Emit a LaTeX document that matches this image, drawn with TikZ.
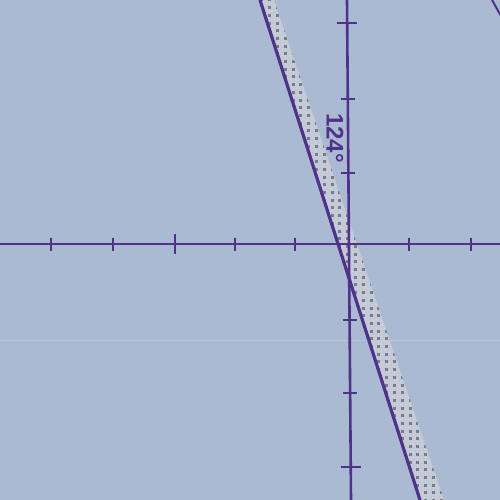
\documentclass[tikz,border=0pt]{standalone}
\usepackage{fontspec}
\setmainfont{Liberation Sans}
\usepackage{xcolor}

\definecolor{bgblue}{RGB}{170,186,210}
\definecolor{axispurple}{RGB}{80,50,138}
\definecolor{bandgrey}{RGB}{196,202,214}
\definecolor{dotgrey}{RGB}{118,124,136}

\begin{document}
\begin{tikzpicture}[
    x=1pt, y=1pt, yscale=-1, xscale=1,
    axis/.style={draw=axispurple, line width=2.6},
    tick/.style={draw=axispurple, line width=2.2},
    every node/.style={inner sep=0pt}
]

%==================== Background ====================
\useasboundingbox (0,0) rectangle (500,500);
\fill[bgblue] (0,0) rectangle (500,500);
\draw[white, opacity=0.15, line width=1] (0,340) -- (500,340);

%==================== Dotted band ====================
\coordinate (bandTL) at (260,0);
\coordinate (bandTR) at (274,0);
\coordinate (bandBR) at (444,500);
\coordinate (bandBL) at (420,500);
\fill[bandgrey] (bandTL) -- (bandTR) -- (bandBR) -- (bandBL) -- cycle;
\begin{scope}
  \clip (bandTL) -- (bandTR) -- (bandBR) -- (bandBL) -- cycle;
  \foreach \i in {0,...,25}
    \foreach \j in {0,...,65}
      \fill[dotgrey] (254+7.8*\i-1.5, 7.7*\j-1.5) rectangle ++(3,3);
\end{scope}

%==================== Axes ====================
\coordinate (xL) at (0,244);
\coordinate (xR) at (500,244);
\coordinate (yT) at (347,0);
\coordinate (yB) at (351,500);
\draw[axis] (xL) -- (xR);
\draw[axis] (yT) -- (yB);

% ticks on horizontal axis
\foreach \x in {51,113,235,295,409,471}
  \draw[tick] (\x,237.5) -- (\x,250.5);
\draw[tick] (175,234) -- (175,254);

% ticks on vertical axis
\foreach \y in {99,173,320,393}
  \draw[tick] ({347+0.008*\y-7},\y) -- ++(14,0);
\foreach \y in {23,467}
  \draw[tick] ({347+0.008*\y-10},\y) -- ++(20,0);

%==================== Slanted line ====================
\coordinate (lineT) at (260,0);
\coordinate (lineB) at (420,500);
\draw[draw=axispurple, line width=3.2] (lineT) -- (lineB);

% corner stroke
\coordinate (cornT) at (492,0);
\coordinate (cornB) at (501,16);
\draw[draw=axispurple, line width=2] (cornT) -- (cornB);

%==================== Label ====================
\node[rotate=-90, text=axispurple, font=\bfseries\fontsize{24}{24}\selectfont] (angle) at (335,138) {124°};

\end{tikzpicture}
\end{document}
